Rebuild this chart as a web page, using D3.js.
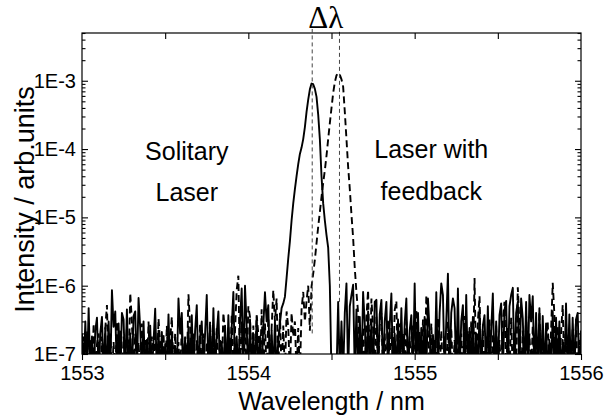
<!DOCTYPE html>
<html><head><meta charset="utf-8">
<script src="https://cdn.jsdelivr.net/npm/d3@7"></script>
<style>body{margin:0;background:#fff} svg text{font-family:"Liberation Sans",Arial,Helvetica,sans-serif;fill:#000}</style>
</head><body><svg id="c" width="605" height="418"></svg>
<script>
// wavelength sampling grid (nm)
const lambdaStart = 1553, lambdaStep = 0.01;
// Solitary laser spectrum (solid line), arb. units
const solitary = [
2.0e-7,5e-8,
3.0e-7,5e-8,4.7e-7,5e-8,1.8e-7,5e-8,2.2e-7,3.4e-7,5e-8,2.0e-7,
3.5e-7,5e-8,2.4e-7,5e-8,3.0e-7,5e-8,8.6e-7,2.5e-7,4.2e-7,5e-8,
2.8e-7,5e-8,4.0e-7,3.2e-7,5e-8,4.5e-7,5e-8,2.0e-7,5e-8,3.6e-7,
4.2e-7,5e-8,6.6e-7,2.4e-7,5e-8,3.0e-7,5e-8,1.6e-7,5e-8,2.6e-7,
5e-8,1.5e-7,4.6e-7,5e-8,2.2e-7,5e-8,2.1e-7,5e-8,1.4e-7,5e-8,
3.8e-7,5e-8,2.0e-7,5e-8,1.3e-7,5e-8,6.5e-7,2.0e-7,4.0e-7,5e-8,
1.7e-7,5e-8,2.5e-7,5e-8,3.7e-7,5e-8,2.2e-7,5.2e-7,5e-8,1.8e-7,
3.0e-7,5e-8,2.0e-7,7.3e-7,5e-8,2.5e-7,5e-8,4.7e-7,5e-8,2.0e-7,
4.2e-7,5e-8,1.5e-7,5e-8,2.6e-7,5e-8,3.7e-7,5e-8,2.4e-7,8.1e-7,
5e-8,1.8e-7,5e-8,3.0e-7,9.1e-7,5e-8,1.0e-6,2.5e-7,5e-8,3.2e-7,
5e-8,2.0e-7,5e-8,3.5e-7,5e-8,1.8e-7,5e-8,2.6e-7,8.0e-7,3.0e-7,
5.2e-7,5e-8,2.2e-7,5e-8,3.0e-7,5e-8,1.6e-7,2.8e-7,4.7e-7,5.5e-7,
6.9e-7,1.3e-6,2.5e-6,4.5e-6,9e-6,1.6e-5,2.6e-5,4e-5,6e-5,8.5e-5,
1.05e-4,1.4e-4,2.1e-4,3.5e-4,5.3e-4,7.5e-4,9.1e-4,8.9e-4,7.6e-4,5.8e-4,
3.2e-4,1.4e-4,4e-5,1.6e-5,9e-6,5.5e-6,3.6e-6,1e-6,5e-8,5e-8,
5e-8,5e-8,5.8e-7,5e-8,3.0e-7,5e-8,4.0e-7,1.08e-6,5e-8,5.0e-7,
7.3e-7,1.03e-6,5e-8,4.5e-7,5e-8,3.5e-7,5e-8,8.1e-7,2.8e-7,5e-8,
4.2e-7,5e-8,3.0e-7,5e-8,5.8e-7,6.2e-7,5e-8,3.8e-7,6.2e-7,5e-8,
3.0e-7,5.8e-7,5e-8,2.6e-7,7.7e-7,5e-8,2.0e-7,5e-8,3.2e-7,5e-8,
4.7e-7,5e-8,2.8e-7,6.5e-7,5e-8,2.2e-7,3.7e-7,5e-8,1.08e-6,5e-8,
4.0e-7,5e-8,2.4e-7,5e-8,3.5e-7,5e-8,6.5e-7,2.1e-7,5e-8,1.9e-7,
5e-8,8.0e-7,5e-8,4.0e-7,1.08e-6,7.3e-7,5e-8,3.0e-7,1.5e-6,5e-8,
4.0e-7,6.5e-7,4.7e-7,5e-8,9.1e-7,5e-8,3.0e-7,5.2e-7,5e-8,7.3e-7,
5e-8,2.4e-7,5e-8,3.5e-7,5e-8,2.0e-7,5e-8,4.4e-7,5e-8,2.6e-7,
3.7e-7,5e-8,5.0e-7,5e-8,2.2e-7,7.7e-7,5e-8,3.0e-7,5e-8,3.7e-7,
5.5e-7,5e-8,4.4e-7,6.0e-7,5e-8,5.0e-7,7.3e-7,9.3e-7,5e-8,4.0e-7,
5.8e-7,5e-8,6.5e-7,3.3e-7,5e-8,5.8e-7,5e-8,7.3e-7,3.0e-7,7.0e-7,
5e-8,4.0e-7,5e-8,4.7e-7,5e-8,3.6e-7,5e-8,2.8e-7,5e-8,1.6e-7,
5e-8,4.2e-7,5e-8,3.4e-7,5e-8,3.0e-7,5e-8,1.6e-7,5e-8,5.5e-7,
5e-8,3.8e-7,5e-8,3.4e-7,5e-8,3.2e-7,4.0e-7,5e-8,2.2e-7
];
// Laser with feedback spectrum (dashed line), arb. units
const withFeedback = [
5e-8,1.8e-7,
5e-8,2.2e-7,5e-8,1.6e-7,5e-8,2.8e-7,5e-8,1.4e-7,2.0e-7,5e-8,
1.8e-7,5e-8,2.4e-7,5.2e-7,5e-8,2.0e-7,5e-8,1.5e-7,5e-8,3.0e-7,
5e-8,2.2e-7,5e-8,1.8e-7,5e-8,2.6e-7,5e-8,7.8e-7,3.0e-7,5e-8,
2.0e-7,5e-8,1.5e-7,5e-8,2.8e-7,5e-8,1.6e-7,5e-8,3.0e-7,5e-8,
1.8e-7,5e-8,2.2e-7,5e-8,3.3e-7,1.4e-7,5e-8,2.0e-7,5e-8,2.6e-7,
5e-8,1.6e-7,3.5e-7,5e-8,2.0e-7,5e-8,1.5e-7,5e-8,2.4e-7,5e-8,
1.8e-7,5e-8,7.5e-7,2.6e-7,5e-8,2.0e-7,5e-8,1.6e-7,5e-8,2.8e-7,
5e-8,2.0e-7,5e-8,1.5e-7,5e-8,3.0e-7,5e-8,1.8e-7,5e-8,2.4e-7,
5e-8,1.6e-7,5e-8,4.0e-7,2.0e-7,5e-8,2.6e-7,5e-8,3.8e-7,5e-8,
2.2e-7,8.6e-7,1.4e-6,5e-8,3.0e-7,5e-8,2.4e-7,5e-8,5.0e-7,3.5e-7,
5e-8,2.6e-7,5e-8,3.7e-7,2.0e-7,5e-8,4.5e-7,5e-8,2.8e-7,5e-8,
3.4e-7,5e-8,2.4e-7,8.6e-7,3.0e-7,6.5e-7,5e-8,4.0e-7,5e-8,2.6e-7,
5e-8,4.2e-7,2.5e-7,5e-8,4.0e-7,1.8e-7,3.0e-7,5e-8,2.4e-7,5e-8,
4.5e-7,8.1e-7,3.0e-7,6.0e-7,1.0e-6,2.2e-7,9.7e-7,1.5e-6,2.4e-6,4.2e-6,
7.3e-6,1.2e-5,2e-5,3.2e-5,4.9e-5,8e-5,1.4e-4,2.4e-4,4e-4,6.6e-4,
9.5e-4,1.2e-3,1.3e-3,1.22e-3,1.05e-3,8.2e-4,3.5e-4,1.4e-4,5.5e-5,2.6e-5,
1.1e-5,5e-6,1.8e-6,8e-7,4e-7,5e-8,5e-8,2.5e-7,5e-8,3.5e-7,
8.6e-7,5e-8,6.5e-7,2.4e-7,5e-8,3.6e-7,5e-8,2.6e-7,4.0e-7,5e-8,
2.0e-7,5e-8,3.2e-7,5e-8,2.4e-7,5e-8,4.4e-7,6.0e-7,5e-8,2.8e-7,
5e-8,2.0e-7,5e-8,3.0e-7,5e-8,1.8e-7,5e-8,2.6e-7,5e-8,4.5e-7,
5e-8,2.1e-7,5e-8,3.2e-7,5e-8,7.3e-7,2.0e-7,5e-8,2.8e-7,5e-8,
1.6e-7,5e-8,3.4e-7,5e-8,2.2e-7,5e-8,1.8e-7,5e-8,3.0e-7,5e-8,
2.4e-7,5e-8,1.6e-7,5e-8,2.8e-7,5e-8,2.0e-7,5e-8,3.6e-7,5e-8,
2.2e-7,5e-8,3.0e-7,5e-8,1.29e-6,5e-8,3.0e-7,7.0e-7,5e-8,2.2e-7,
5e-8,1.8e-7,5e-8,3.2e-7,5e-8,2.0e-7,5e-8,2.6e-7,5e-8,1.6e-7,
5e-8,3.0e-7,5.8e-7,5e-8,2.4e-7,5e-8,3.4e-7,5e-8,2.0e-7,5e-8,
9.5e-7,2.8e-7,5e-8,2.2e-7,5e-8,3.6e-7,5e-8,2.0e-7,5e-8,2.6e-7,
5e-8,1.8e-7,5e-8,4.2e-7,5e-8,2.4e-7,5e-8,1.6e-7,3.0e-7,5e-8,
2.2e-7,1.1e-6,3.8e-7,5e-8,2.6e-7,5e-8,2.0e-7,5.2e-7,5e-8,3.0e-7,
5e-8,1.8e-7,5e-8,2.4e-7,5e-8,3.2e-7,5e-8,1.6e-7,5e-8
];
const xMajorTicks = [1553, 1554, 1555, 1556];
const xMinorTicks = [1553.5, 1554.5, 1555.5];
const yMajorTicks = [1e-7, 1e-6, 1e-5, 1e-4, 1e-3];
const yTickLabels = ["1E-7", "1E-6", "1E-5", "1E-4", "1E-3"];
const peakLambdas = [1554.384, 1554.548];
const peakGuideBottoms = [2.0e-7, 5.8e-7];
const leftLabel = ["Solitary", "Laser"];
const rightLabel = ["Laser with", "feedback"];

const W = 605, H = 418, m = {l: 82, r: 24, t: 33, b: 64};
const svg = d3.select("#c");
const x = d3.scaleLinear().domain([1553, 1556]).range([m.l, W - m.r]);
const y = d3.scaleLog().domain([1e-7, 5e-3]).range([H - m.b, m.t]);
const lam = i => lambdaStart + i * lambdaStep;

svg.append("defs").append("clipPath").attr("id", "pc").append("rect")
  .attr("x", m.l).attr("y", m.t).attr("width", W - m.l - m.r).attr("height", H - m.t - m.b);

const line = d3.line().x((d, i) => x(lam(i))).y(d => y(d));
const g = svg.append("g").attr("clip-path", "url(#pc)");
g.append("path").datum(solitary).attr("d", line)
  .attr("fill", "none").attr("stroke", "#000").attr("stroke-width", 1.9).attr("stroke-linejoin", "round");
g.append("path").datum(withFeedback).attr("d", line)
  .attr("fill", "none").attr("stroke", "#000").attr("stroke-width", 1.9).attr("stroke-dasharray", "7,4");

// guide lines
svg.selectAll(".guide").data(peakLambdas).join("line").attr("class", "guide")
  .attr("x1", d => x(d)).attr("x2", d => x(d))
  .attr("y1", (d, i) => y(peakGuideBottoms[i])).attr("y2", m.t - 4)
  .attr("stroke", "#444").attr("stroke-width", 1).attr("stroke-dasharray", "4,3");

// frame
svg.append("rect").attr("x", m.l).attr("y", m.t).attr("width", W - m.l - m.r).attr("height", H - m.t - m.b)
  .attr("fill", "none").attr("stroke", "#000").attr("stroke-width", 1.2);

function style(sel) { sel.select(".domain").remove(); sel.selectAll("line").attr("stroke", "#000").attr("stroke-width", 1.1); }
// bottom
svg.append("g").attr("transform", `translate(0,${H - m.b})`)
  .call(d3.axisBottom(x).tickValues(xMajorTicks).tickFormat(d3.format("d")).tickSize(6).tickPadding(6))
  .call(style).call(s => s.selectAll("text").attr("font-size", 20).attr("font-family", "Liberation Sans, Arial"));
svg.append("g").attr("transform", `translate(0,${H - m.b})`)
  .call(d3.axisBottom(x).tickValues(xMinorTicks).tickFormat("").tickSize(6)).call(style);
// top
svg.append("g").attr("transform", `translate(0,${m.t})`)
  .call(d3.axisTop(x).tickValues(xMinorTicks.concat([1554, 1555])).tickFormat("").tickSize(-6)).call(style);
// left
const yMinor = y.ticks().filter(v => !yMajorTicks.some(t => Math.abs(t - v) / t < 1e-6));
svg.append("g").attr("transform", `translate(${m.l},0)`)
  .call(d3.axisLeft(y).tickValues(yMajorTicks).tickFormat((d, i) => yTickLabels[i]).tickSize(-6).tickPadding(6))
  .call(style).call(s => s.selectAll("text").attr("font-size", 20).attr("font-family", "Liberation Sans, Arial"));
svg.append("g").attr("transform", `translate(${m.l},0)`)
  .call(d3.axisLeft(y).tickValues(yMinor).tickFormat("").tickSize(-3.5)).call(style);
// right
svg.append("g").attr("transform", `translate(${W - m.r},0)`)
  .call(d3.axisRight(y).tickValues(yMajorTicks).tickFormat("").tickSize(-6)).call(style);
svg.append("g").attr("transform", `translate(${W - m.r},0)`)
  .call(d3.axisRight(y).tickValues(yMinor).tickFormat("").tickSize(-3.5)).call(style);

// axis titles
svg.append("text").attr("x", (m.l + W - m.r) / 2).attr("y", 410).attr("text-anchor", "middle")
  .attr("font-size", 25).text("Wavelength / nm");
svg.append("text").attr("transform", `translate(34,${(m.t + H - m.b) / 2 + 6}) rotate(-90)`).attr("text-anchor", "middle")
  .attr("font-size", 27).text("Intensity / arb.units");

// annotations
svg.selectAll(".lt").data(leftLabel).join("text").attr("class", "lt")
  .attr("x", x(1553.63)).attr("y", (d, i) => 160 + i * 41).attr("text-anchor", "middle").attr("font-size", 25).text(d => d);
svg.selectAll(".rt").data(rightLabel).join("text").attr("class", "rt")
  .attr("x", x(1555.1)).attr("y", (d, i) => 158 + i * 42).attr("text-anchor", "middle").attr("font-size", 25).text(d => d);
svg.append("text").attr("x", (x(peakLambdas[0]) + x(peakLambdas[1])) / 2).attr("y", 28)
  .attr("text-anchor", "middle").attr("font-size", 31).style("font-family", "Liberation Serif, Times New Roman, serif").text("Δλ");
</script></body></html>
